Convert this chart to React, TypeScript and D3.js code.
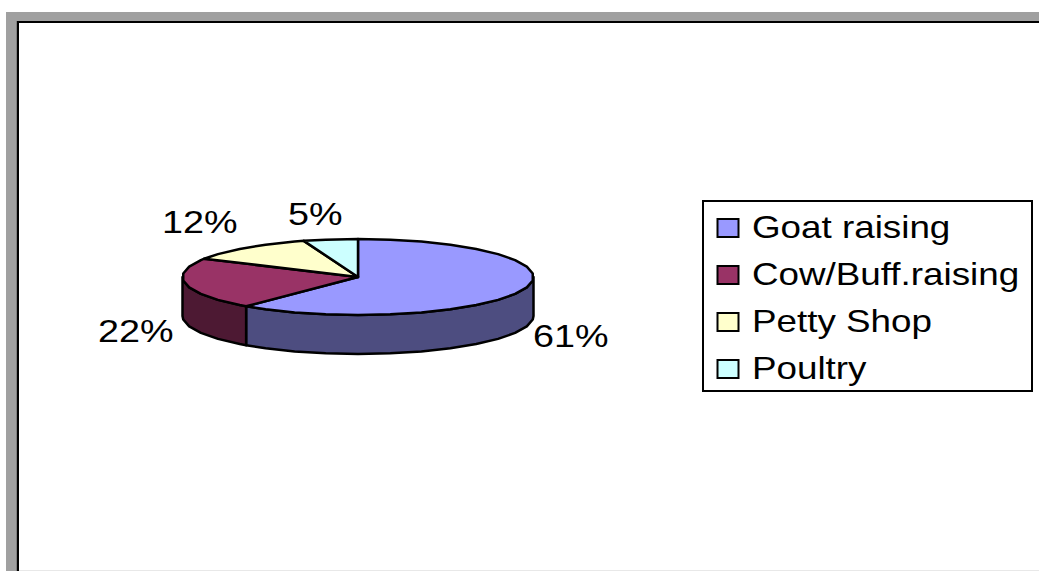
import React from "react";
import * as d3 from "d3";

const categories = ["Goat raising", "Cow/Buff.raising", "Petty Shop", "Poultry"];
const values = [61, 22, 12, 5];
const topColors = ["#9999FF", "#993366", "#FFFFCC", "#CCFFFF"];
const sideColors = ["#4D4D80", "#4D1933", "#80805F", "#668080"];
const labelPos = [
  [533, 347],
  [98, 342],
  [162, 233],
  [288, 225],
];
const legendY = [238, 285, 332, 379];

const W = 1039, H = 571;
const cx = 358, cy = 277, rx = 175.5, ry = 38, depth = 39;
const stretch = 1.15;
const labelStretch = 1.18;

const pt = (a: number, dy = 0): [number, number] => [cx + rx * Math.sin(a), cy - ry * Math.cos(a) + dy];
const step = (Math.PI * 2) / 34;
const sample = (a0: number, a1: number) => {
  const inner = d3.range(Math.ceil(a0 / step + 1e-6), Math.floor(a1 / step - 1e-6) + 1).map((k) => k * step);
  return [a0, ...inner, a1];
};
const line = d3.line<[number, number]>();

export default function App() {
  const arcs = d3.pie<number>().sort(null)(values);
  return (
    <svg width={W} height={H} style={{ position: "absolute", left: 0, top: 0, background: "#fff" }} fontFamily="'Liberation Sans', Arial, sans-serif">
      <rect x={6} y={12} width={1033} height={9} fill="#A0A0A0" />
      <rect x={6} y={12} width={10} height={559} fill="#A0A0A0" />
      <rect x={17} y={21} width={1022} height={2} fill="#000" />
      <rect x={16.5} y={21} width={2.5} height={550} fill="#000" />
      <rect x={19} y={570} width={1020} height={1} fill="#E8E8E8" />

      {arcs.map((d, i) => {
        const a0 = Math.max(d.startAngle, Math.PI / 2);
        const a1 = Math.min(d.endAngle, (3 * Math.PI) / 2);
        if (a1 <= a0) return null;
        const s = sample(a0, a1);
        const pts = [...s.map((a) => pt(a)), ...s.slice().reverse().map((a) => pt(a, depth))];
        return <path key={i} d={line(pts) + "Z"} fill={sideColors[i]} stroke="#000" strokeWidth={2.5} strokeLinejoin="round" />;
      })}
      {arcs.map((d, i) => {
        const pts = [[cx, cy] as [number, number], ...sample(d.startAngle, d.endAngle).map((a) => pt(a))];
        return <path key={i} d={line(pts) + "Z"} fill={topColors[i]} stroke="#000" strokeWidth={2.5} strokeLinejoin="round" />;
      })}
      {values.map((v, i) => (
        <text key={i} transform={`translate(${labelPos[i][0]},${labelPos[i][1]}) scale(${labelStretch},1)`} fontSize={32} fill="#000">{v}%</text>
      ))}

      <rect x={703} y={201} width={329} height={190} fill="#fff" stroke="#000" strokeWidth={2} />
      {categories.map((c, i) => (
        <g key={c}>
          <rect x={717.5} y={legendY[i] - 19} width={21} height={18} fill={topColors[i]} stroke="#000" strokeWidth={2} />
          <text transform={`translate(752,${legendY[i]}) scale(${stretch},1)`} fontSize={32} fill="#000">{c}</text>
        </g>
      ))}
    </svg>
  );
}
